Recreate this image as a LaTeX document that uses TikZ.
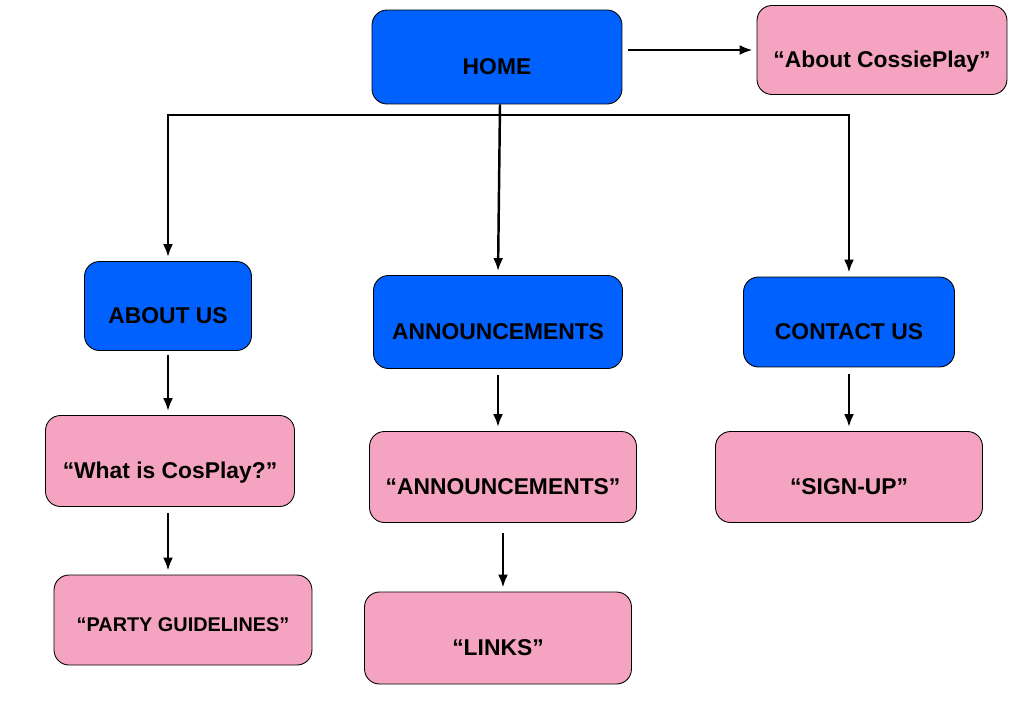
\documentclass[tikz,border=0pt]{standalone}
\usepackage{fontspec}
\setmainfont{Liberation Sans}
\usepackage{xcolor}
\usepackage{tikz}
\usetikzlibrary{arrows.meta}
\definecolor{pageblue}{HTML}{0061FE}
\definecolor{notepink}{HTML}{F4A4C0}

\begin{document}
\begin{tikzpicture}[x=0.02cm,y=-0.02cm,
      every node/.style={font=\fontsize{13}{15}\selectfont\bfseries},
      pagebox/.style={draw=black,line width=0.5pt,fill=pageblue,rounded corners=0.3cm,align=center,text height=0.7cm,text depth=0cm},
      textbox/.style={pagebox,fill=notepink},
      link/.style={line width=1.4pt,black},
      arrow/.style={link,-{Latex[length=0.26cm,width=0.2cm]},shorten >=0.08cm}]
      \useasboundingbox (0,0) rectangle (1017,717);
      % pages
      \node[pagebox,minimum width=5cm,minimum height=1.88cm] (home) at (497,57) {HOME};
      \node[textbox,minimum width=5cm,minimum height=1.78cm] (aboutcp) at (882,50) {“About CossiePlay”};
      \node[pagebox,minimum width=3.34cm,minimum height=1.78cm] (aboutus) at (168,306) {ABOUT US};
      \node[pagebox,minimum width=4.98cm,minimum height=1.86cm] (announce) at (498,322) {ANNOUNCEMENTS};
      \node[pagebox,minimum width=4.22cm,minimum height=1.8cm] (contact) at (849,322) {CONTACT US};
      % contents
      \node[textbox,minimum width=4.98cm,minimum height=1.82cm] (whatis) at (170,461) {“What is CosPlay?”};
      \node[textbox,minimum width=5.16cm,minimum height=1.8cm,font=\fontsize{11.3}{13}\selectfont\bfseries,text height=0.45cm] (party) at (183,620) {“PARTY GUIDELINES”};
      \node[textbox,minimum width=5.34cm,minimum height=1.82cm] (annlist) at (503,477) {“ANNOUNCEMENTS”};
      \node[textbox,minimum width=5.34cm,minimum height=1.84cm] (links) at (498,638) {“LINKS”};
      \node[textbox,minimum width=5.34cm,minimum height=1.82cm] (signup) at (849,477) {“SIGN-UP”};
      % connectors
      \coordinate (split) at (500,115);
      \draw[arrow,shorten <=0.12cm] (home.east |- aboutcp) -- (aboutcp);
      \draw[arrow] (home.south -| split) -- (announce.north);
      \draw[arrow] (split) -| (aboutus.north);
      \draw[arrow] (split) -| (contact.north);
      \draw[arrow,shorten <=0.08cm] (aboutus.south) -- (aboutus.south |- whatis.north);
      \draw[arrow,shorten <=0.12cm] (aboutus |- whatis.south) -- (aboutus |- party.north);
      \draw[arrow,shorten <=0.12cm] (announce.south) -- (announce.south |- annlist.north);
      \draw[arrow,shorten <=0.2cm] (annlist.south) -- (annlist.south |- links.north);
      \draw[arrow,shorten <=0.14cm] (contact.south) -- (contact.south |- signup.north);
    \end{tikzpicture}
\end{document}
